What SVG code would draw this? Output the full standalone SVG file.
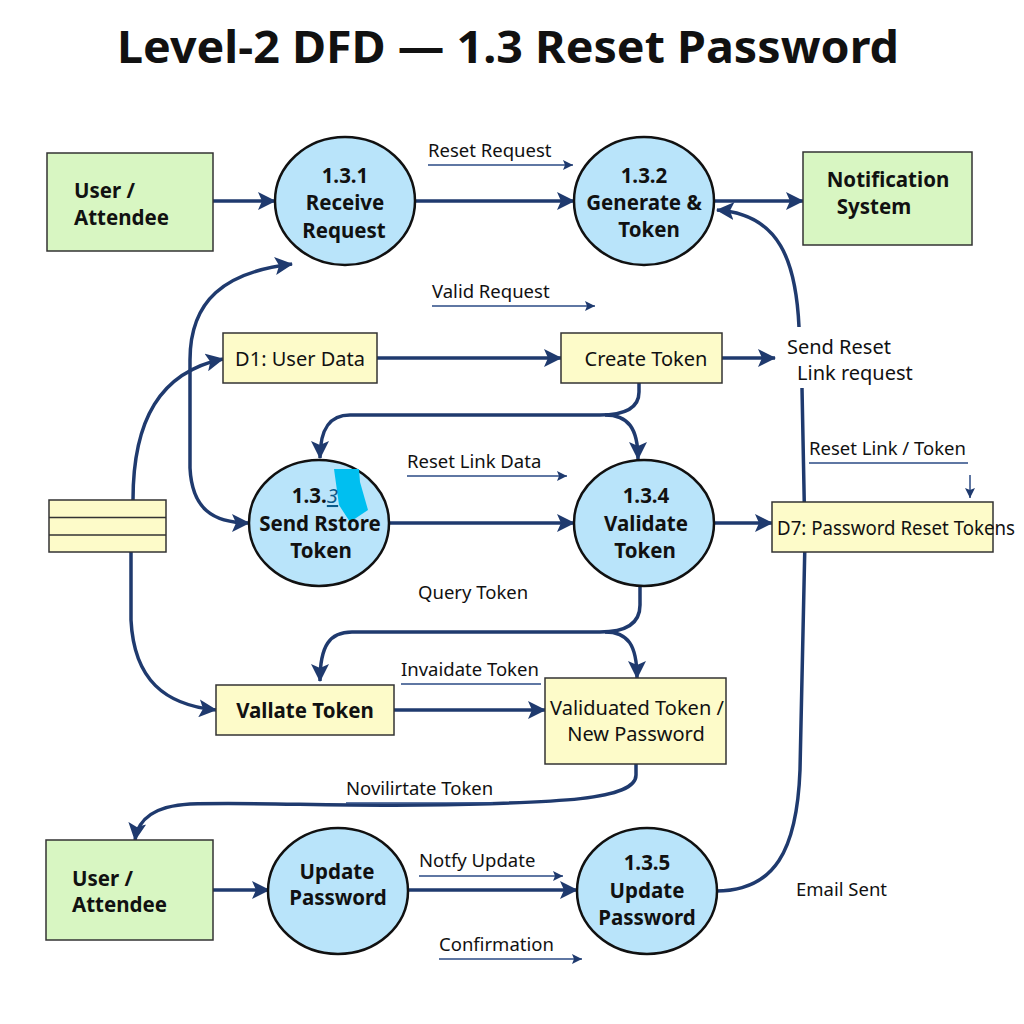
<svg xmlns="http://www.w3.org/2000/svg" width="1024" height="1024" viewBox="0 0 1024 1024">
<defs>
<marker id="ah" markerUnits="userSpaceOnUse" markerWidth="20" markerHeight="18" refX="17" refY="9" orient="auto">
<path d="M0,0 L18,9 L0,18 L4,9 Z" fill="#1f3a6e"/>
</marker>
<marker id="ahs" markerUnits="userSpaceOnUse" markerWidth="12" markerHeight="10" refX="10" refY="5" orient="auto">
<path d="M0,0 L10,5 L0,10 L2,5 Z" fill="#1f3a6e"/>
</marker>
<style>
.flow{fill:none;stroke:#1f3a6e;stroke-width:3.5;}
.thin{fill:none;stroke:#2a4a85;stroke-width:1.5;}
.ent{fill:#d8f6c2;stroke:#333;stroke-width:1.5;}
.store{fill:#fdfbc9;stroke:#333;stroke-width:1.5;}
.proc{fill:#b9e4fa;stroke:#111;stroke-width:2.5;}
.bt{font-family:"Noto Sans","Open Sans",sans-serif;font-weight:bold;font-size:20.5px;fill:#111;}
.bc{font-family:"Noto Sans","Open Sans",sans-serif;font-weight:bold;font-size:20.5px;fill:#111;text-anchor:middle;}
.lb{font-family:"Noto Sans","Open Sans",sans-serif;font-size:18.5px;fill:#111;}
.st{font-family:"Noto Sans","Open Sans",sans-serif;font-size:20px;fill:#111;}
</style>
</defs>
<rect width="1024" height="1024" fill="#ffffff"/>
<text x="508" y="63" text-anchor="middle" font-family="Noto Sans, Open Sans, sans-serif" font-weight="bold" font-size="44" fill="#111" textLength="782" lengthAdjust="spacingAndGlyphs">Level-2 DFD — 1.3 Reset Password</text>

<g id="connectors">
<path class="flow" d="M213,201 L275,201" marker-end="url(#ah)"/>
<path class="flow" d="M415,201 L574,201" marker-end="url(#ah)"/>
<path class="flow" d="M714,201 L803,201" marker-end="url(#ah)"/>
<path class="flow" d="M190,400 L190,360 C190,300 225,272 292,264" marker-end="url(#ah)"/>
<path class="flow" d="M190,400 L190,468 C192,508 212,523 249,523" marker-end="url(#ah)"/>
<path class="flow" d="M133,500 C133,420 160,372 223,359" marker-end="url(#ah)"/>
<path class="flow" d="M131,552 L131,620 C134,680 165,705 216,710" marker-end="url(#ah)"/>
<path class="flow" d="M377,358 L561,358" marker-end="url(#ah)"/>
<path class="flow" d="M722,358 L775,358" marker-end="url(#ah)"/>
<path class="flow" d="M639,383 L639,392 C639,408 625,415 600,415 L350,415 C330,415 320,428 320,458" marker-end="url(#ah)"/>
<path class="flow" d="M605,415 C628,415 638,428 638,459" marker-end="url(#ah)"/>
<path class="flow" d="M389,523 L574,523" marker-end="url(#ah)"/>
<path class="flow" d="M714,523 L772,523" marker-end="url(#ah)"/>
<path class="flow" d="M640,586 L640,605 C640,624 625,632 600,632 L352,632 C330,632 320,645 320,681" marker-end="url(#ah)"/>
<path class="flow" d="M605,632 C628,632 637,645 637,678" marker-end="url(#ah)"/>
<path class="flow" d="M394,710 L545,710" marker-end="url(#ah)"/>
<path class="flow" d="M636,764 L636,775 C636,800 560,803 420,805 C330,806 250,802 190,804 C155,806 138,818 135,840" marker-end="url(#ah)"/>
<path class="flow" d="M213,890 L269,890" marker-end="url(#ah)"/>
<path class="flow" d="M408,890 L577,890" marker-end="url(#ah)"/>
<path class="flow" d="M716,891 C775,891 797,850 800,770 L805,540 L802,388"/>
<path class="flow" d="M799,327 C796,262 780,214 717,210" marker-end="url(#ah)"/>
<path class="thin" d="M428,165 L573,165" marker-end="url(#ahs)"/>
<path class="thin" d="M432,306 L595,306" marker-end="url(#ahs)"/>
<path class="thin" d="M407,476 L567,476" marker-end="url(#ahs)"/>
<path class="thin" d="M809,463 L968,463"/>
<path class="thin" d="M970,475 L970,498" marker-end="url(#ahs)"/>
<path class="thin" d="M401,684 L541,684"/>
<path class="thin" d="M346,803 L493,803"/>
<path class="thin" d="M419,876 L563,876" marker-end="url(#ahs)"/>
<path class="thin" d="M439,959 L582,959" marker-end="url(#ahs)"/>
</g>

<g id="labels">
<text class="lb" x="428" y="157">Reset Request</text>
<text class="lb" x="432" y="298">Valid Request</text>
<text class="lb" x="407" y="468">Reset Link Data</text>
<text class="lb" x="418" y="599">Query Token</text>
<text class="lb" x="401" y="676">Invaidate Token</text>
<text class="lb" x="346" y="795">Novilirtate Token</text>
<text class="lb" x="419" y="867">Notfy Update</text>
<text class="lb" x="439" y="951">Confirmation</text>
<text class="lb" x="809" y="455">Reset Link / Token</text>
<text class="st" x="787" y="354">Send Reset</text>
<text class="st" x="797" y="380">Link request</text>
<text class="lb" x="796" y="896">Email Sent</text>
</g>

<g id="user-top">
<rect class="ent" x="47" y="153" width="166" height="98"/>
<text class="bt" x="74" y="198">User /</text>
<text class="bt" x="74" y="225">Attendee</text>
</g>
<g id="p131">
<ellipse class="proc" cx="345" cy="201" rx="70" ry="64"/>
<text class="bc" x="345" y="183">1.3.1</text>
<text class="bc" x="345" y="210">Receive</text>
<text class="bc" x="344" y="238">Request</text>
</g>
<g id="p132">
<ellipse class="proc" cx="644" cy="201" rx="70" ry="64"/>
<text class="bc" x="644" y="183">1.3.2</text>
<text class="bc" x="644" y="210">Generate &amp;</text>
<text class="bc" x="649" y="237">Token</text>
</g>
<g id="notification">
<rect class="ent" x="803" y="152" width="169" height="93"/>
<text class="bc" x="888" y="187">Notification</text>
<text class="bc" x="874" y="214">System</text>
</g>
<g id="d1">
<rect class="store" x="223" y="333" width="154" height="50"/>
<text class="st" x="300" y="366" text-anchor="middle">D1: User Data</text>
</g>
<g id="create-token">
<rect class="store" x="561" y="333" width="161" height="50"/>
<text class="st" x="646" y="366" text-anchor="middle">Create Token</text>
</g>
<g id="store-left">
<rect class="store" x="49" y="500" width="117" height="52"/>
<line x1="49" y1="517.5" x2="166" y2="517.5" stroke="#333" stroke-width="1.5"/>
<line x1="49" y1="535" x2="166" y2="535" stroke="#333" stroke-width="1.5"/>
</g>
<g id="p133">
<ellipse class="proc" cx="319" cy="523" rx="70" ry="63"/>
<path d="M334,469 L359,469 L360,482 L368,510 L350,522 L339,505 Z" fill="#00bff0"/>
<text class="bc" x="315" y="503">1.3.<tspan font-style="italic" font-weight="normal" fill="#0a5a8a" text-decoration="underline">3</tspan></text>
<text class="bc" x="320" y="531">Send Rstore</text>
<text class="bc" x="321" y="558">Token</text>
</g>
<g id="p134">
<ellipse class="proc" cx="644" cy="523" rx="70" ry="63"/>
<text class="bc" x="646" y="503">1.3.4</text>
<text class="bc" x="646" y="531">Validate</text>
<text class="bc" x="645" y="558">Token</text>
</g>
<g id="d7">
<rect class="store" x="772" y="502" width="221" height="50"/>
<text class="st" x="777" y="535" textLength="238" lengthAdjust="spacingAndGlyphs">D7: Password Reset Tokens</text>
</g>
<g id="vallate">
<rect class="store" x="216" y="685" width="178" height="50"/>
<text class="bc" x="305" y="718">Vallate Token</text>
</g>
<g id="validuated">
<rect class="store" x="545" y="678" width="181" height="86"/>
<text class="st" x="637" y="715" text-anchor="middle">Validuated Token /</text>
<text class="st" x="636" y="741" text-anchor="middle">New Password</text>
</g>
<g id="user-bottom">
<rect class="ent" x="46" y="840" width="167" height="100"/>
<text class="bt" x="72" y="886">User /</text>
<text class="bt" x="72" y="912">Attendee</text>
</g>
<g id="update-password">
<ellipse class="proc" cx="338" cy="891" rx="70" ry="63"/>
<text class="bc" x="337" y="879">Update</text>
<text class="bc" x="338" y="905">Password</text>
</g>
<g id="p135">
<ellipse class="proc" cx="647" cy="891" rx="70" ry="63"/>
<text class="bc" x="647" y="870">1.3.5</text>
<text class="bc" x="647" y="898">Update</text>
<text class="bc" x="647" y="925">Password</text>
</g>
</svg>
